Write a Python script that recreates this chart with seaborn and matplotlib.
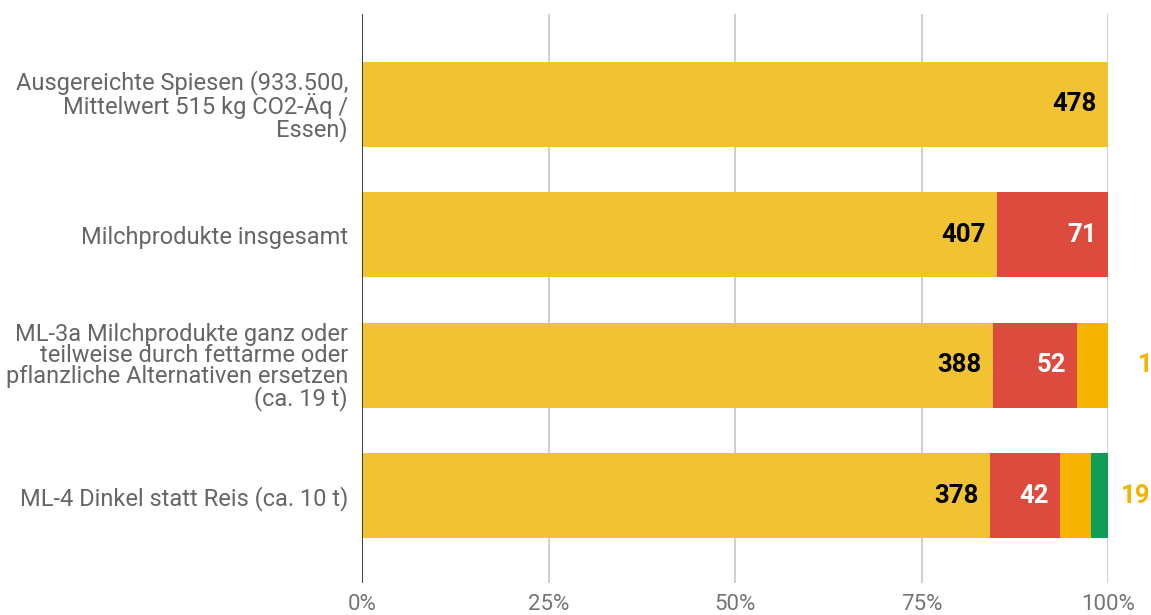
import matplotlib
matplotlib.use("Agg")
import matplotlib.pyplot as plt
import seaborn as sns
import numpy as np
import pandas as pd

categories = [
    "Ausgereichte Spiesen (933.500,\nMittelwert 515 kg CO2-Äq /\nEssen)",
    "Milchprodukte insgesamt",
    "ML-3a Milchprodukte ganz oder\nteilweise durch fettarme oder\npflanzliche Alternativen ersetzen\n(ca. 19 t)",
    "ML-4 Dinkel statt Reis (ca. 10 t)",
]
rest = [478, 407, 388, 378]
milch = [0, 71, 52, 42]
ml3a = [0, 0, 19, 19]
ml4 = [0, 0, 0, 10]
tick_labels = ["0%", "25%", "50%", "75%", "100%"]

series = [rest, milch, ml3a, ml4]
colors = ["#F1C232", "#DD4B3E", "#F4B400", "#0F9D58"]
label_colors = ["#000000", "#FFFFFF", "#F4B400", "#0F9D58"]

vals = np.array(series, dtype=float)
totals = vals.sum(axis=0)
shares = vals / totals
cum = np.cumsum(shares, axis=0)

sns.set_theme(style="white")
plt.rcParams["font.family"] = ["Roboto", "DejaVu Sans"]

fig = plt.figure(figsize=(11.51, 6.15), dpi=100)
ax = fig.add_axes([362 / 1151, 1 - 583 / 615, 746 / 1151, 569 / 615])

# stacked bars: draw cumulative layers from the outermost inwards
for i in range(len(series) - 1, -1, -1):
    df = pd.DataFrame({"cat": categories, "x": cum[i]})
    sns.barplot(data=df, x="x", y="cat", orient="h", color=colors[i],
                width=0.65, saturation=1, ax=ax, linewidth=0, zorder=3)

# value labels
for j in range(len(categories)):
    for i in range(len(series)):
        v = vals[i, j]
        if v == 0:
            continue
        end = cum[i, j]
        if shares[i, j] > 0.06:
            ax.annotate(f"{int(v)}", xy=(end, j), xytext=(-8, 0),
                        textcoords="offset points", ha="right", va="center",
                        fontsize=18.5, fontweight="bold", color=label_colors[i],
                        zorder=5)
        elif i == 2:
            ax.annotate(f"{int(v)}", xy=(end, j), xytext=(21.5, 0),
                        textcoords="offset points", ha="left", va="center",
                        fontsize=18.5, fontweight="bold", color=label_colors[i],
                        zorder=5, annotation_clip=False)

ax.set_xlim(0, 1)
ax.set_ylim(3.67, -0.693)
ax.set_xticks([0, 0.25, 0.5, 0.75, 1.0])
ax.set_xticklabels(tick_labels)
ax.xaxis.grid(True, color="#CCCCCC", linewidth=1.3, zorder=0)
ax.yaxis.grid(False)
ax.set_axisbelow(True)
for s in ax.spines.values():
    s.set_visible(False)
ax.axvline(0, color="#333333", linewidth=1.3, zorder=4)
ax.set_xlabel("")
ax.set_ylabel("")
ax.tick_params(axis="x", length=0, pad=8, labelsize=16, labelcolor="#757575")
ax.tick_params(axis="y", length=0, pad=10, labelsize=17, labelcolor="#666666")
for t in ax.get_yticklabels():
    t.set_linespacing(0.9)
    t.set_ha("right")

fig.savefig("out.png", dpi=100)
